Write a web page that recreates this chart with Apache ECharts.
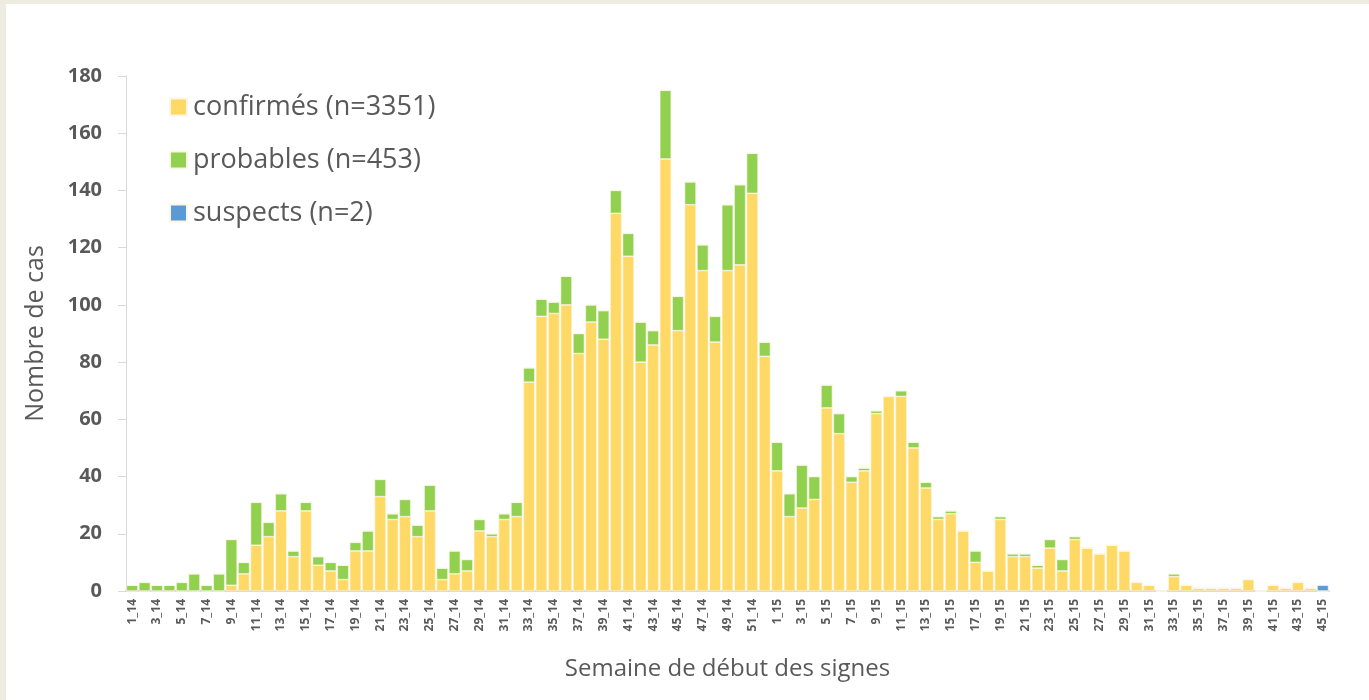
<!DOCTYPE html>
<html>
<head>
<meta charset="utf-8">
<script src="https://cdn.jsdelivr.net/npm/echarts@6/dist/echarts.min.js"></script>
<style>
html,body{margin:0;padding:0;background:#eeebe0;}
#wrap{position:absolute;left:6px;top:4px;width:1363px;height:696px;background:#fff;}
#chart{width:1363px;height:696px;}
</style>
</head>
<body>
<div id="wrap"><div id="chart"></div></div>
<script>
const weeks2014 = ['1_14','2_14','3_14','4_14','5_14','6_14','7_14','8_14','9_14','10_14','11_14','12_14','13_14','14_14','15_14','16_14','17_14','18_14','19_14','20_14','21_14','22_14','23_14','24_14','25_14','26_14','27_14','28_14','29_14','30_14','31_14','32_14','33_14','34_14','35_14','36_14','37_14','38_14','39_14','40_14','41_14','42_14','43_14','44_14','45_14','46_14','47_14','48_14','49_14','50_14','51_14','52_14'];
const weeks2015 = ['1_15','2_15','3_15','4_15','5_15','6_15','7_15','8_15','9_15','10_15','11_15','12_15','13_15','14_15','15_15','16_15','17_15','18_15','19_15','20_15','21_15','22_15','23_15','24_15','25_15','26_15','27_15','28_15','29_15','30_15','31_15','32_15','33_15','34_15','35_15','36_15','37_15','38_15','39_15','40_15','41_15','42_15','43_15','44_15','45_15'];
const categories = weeks2014.concat(weeks2015);

const confirmes = [
  0,0,0,0,0,0,0,0,2,6,16,19,28,12,28,9,7,4,14,14,33,25,26,19,28,4,6,7,21,19,25,26,
  73,96,97,100,83,94,88,132,117,80,86,151,91,135,112,87,112,114,139,82,
  42,26,29,32,64,55,38,42,62,68,68,50,36,25,27,21,10,7,25,12,12,8,15,7,18,15,13,16,14,3,2,0,
  5,2,1,1,1,1,4,0,2,1,3,1,0
];
const probables = [
  2,3,2,2,3,6,2,6,16,4,15,5,6,2,3,3,3,5,3,7,6,2,6,4,9,4,8,4,4,1,2,5,
  5,6,4,10,7,6,10,8,8,14,5,24,12,8,9,9,23,28,14,5,
  10,8,15,8,8,7,2,1,1,0,2,2,2,1,1,0,4,0,1,1,1,1,3,4,1,0,0,0,0,0,0,0,
  1,0,0,0,0,0,0,0,0,0,0,0,0
];
const suspects = new Array(96).fill(0).concat([2]);

const legendNames = ['confirmés (n=3351)','probables (n=453)','suspects (n=2)'];
const yTicks = {min:0, max:180, interval:20};

const chart = echarts.init(document.getElementById('chart'));
const txt = '#595959';
const border = {borderColor:'#fbf6e6', borderWidth:0.6};
chart.setOption({
  animation:false,
  backgroundColor:'#ffffff',
  grid:{left:120, right:40, top:72, bottom:109},
  legend:{
    orient:'vertical', left:158, top:83, itemWidth:17, itemHeight:17, itemGap:23,
    icon:'rect',
    textStyle:{fontFamily:'Open Sans', fontSize:27, lineHeight:30, color:txt, padding:[0,0,0,1]},
    data:legendNames
  },
  xAxis:{
    type:'category', data:categories,
    name:'Semaine de début des signes', nameLocation:'middle', nameGap:66,
    nameTextStyle:{fontFamily:'Open Sans', fontSize:24, color:txt},
    axisLine:{lineStyle:{color:'#d9d9d9', width:2}},
    axisTick:{show:false},
    axisLabel:{rotate:90, interval:1, fontFamily:'Open Sans', fontWeight:'bold', fontSize:12, color:txt, margin:8}
  },
  yAxis:{
    type:'value', min:yTicks.min, max:yTicks.max, interval:yTicks.interval,
    name:'Nombre de cas', nameLocation:'middle', nameGap:78,
    nameTextStyle:{fontFamily:'Open Sans', fontSize:25, color:txt},
    axisLine:{show:true, lineStyle:{color:'#d9d9d9', width:1}},
    axisTick:{show:true, length:8, lineStyle:{color:'#d9d9d9'}},
    splitLine:{show:false},
    axisLabel:{fontFamily:'Open Sans', fontWeight:'bold', fontSize:20, color:txt, margin:24}
  },
  series:[
    {name:legendNames[0], type:'bar', stack:'s', data:confirmes, barCategoryGap:'8%', itemStyle:Object.assign({color:'#ffd966'}, border)},
    {name:legendNames[1], type:'bar', stack:'s', data:probables, itemStyle:Object.assign({color:'#92d050'}, border)},
    {name:legendNames[2], type:'bar', stack:'s', data:suspects, itemStyle:Object.assign({color:'#5b9bd5'}, border)}
  ]
});
</script>
</body>
</html>
